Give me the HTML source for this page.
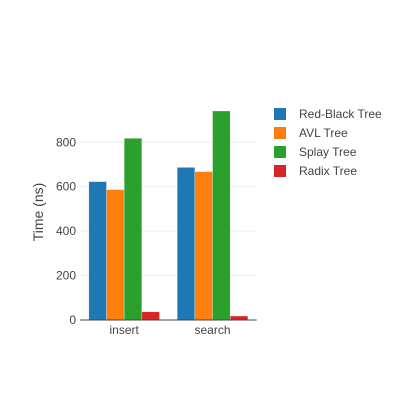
<!DOCTYPE html>
<html><head><meta charset="utf-8"><style>
body{margin:0;background:#fff;}
svg{font-family:"Liberation Sans","DejaVu Sans",sans-serif;}
</style></head><body>
<svg id="chart" width="400" height="400" xmlns="http://www.w3.org/2000/svg">
<g id="grid"></g>
<g id="bars"></g>
<g id="axes"></g>
<text transform="translate(43,212) rotate(-90)" text-anchor="middle" font-size="14" fill="#444">Time (ns)</text>
<g id="legend"></g>
</svg>
<script>
const categories = ["insert", "search"];
const seriesNames = ["Red-Black Tree", "AVL Tree", "Splay Tree", "Radix Tree"];
const redBlack = [623, 687];
const avl = [587, 668];
const splay = [818, 941];
const radix = [37, 18];
const yTicks = [0, 200, 400, 600, 800];
const colors = ["#1f77b4", "#ff7f0e", "#2ca02c", "#d62728"];

const NS = "http://www.w3.org/2000/svg";
const x0 = 80, x1 = 256.7, yBase = 320, pxPerUnit = 177.7 / 800;
const yScale = v => yBase - v * pxPerUnit;
const catW = (x1 - x0) / categories.length;
const xCat = i => x0 + catW * i;
function mk(tag, attrs, parent){const e=document.createElementNS(NS,tag);for(const k in attrs)e.setAttribute(k,attrs[k]);parent.appendChild(e);return e;}

const grid = document.getElementById("grid");
const axes = document.getElementById("axes");
yTicks.forEach(t => {
  if (t > 0) {
    const l = mk("line", {x1:x0, x2:x1, y1:yScale(t), y2:yScale(t), stroke:"#eee", "stroke-width":1}, grid);
    
    
  }
  const tx = mk("text", {x:x0-4, y:yScale(t)+4, "text-anchor":"end", "font-size":12, fill:"#444"}, axes);
  tx.textContent = t;
  
  
});

const series = [redBlack, avl, splay, radix];
const bars = document.getElementById("bars");
const groupW = catW * 0.8, bw = groupW / series.length;
series.forEach((vals, s) => {
  vals.forEach((v, i) => {
    const x = xCat(i) + catW * 0.1 + bw * s;
    const r = mk("rect", {x:x, y:yScale(v), width:bw, height:yBase - yScale(v), fill:colors[s], stroke:"rgba(255,255,255,0.6)", "stroke-width":0.5}, bars);
    
    
  });
});

const ax = mk("line", {x1:x0, x2:x1, y1:yBase, y2:yBase, stroke:"#444", "stroke-width":1}, axes);


categories.forEach((c, i) => {
  const t = mk("text", {x:xCat(i)+catW/2, y:yBase+14, "text-anchor":"middle", "font-size":12, fill:"#444"}, axes);
  t.textContent = c;
  
  
});

const legend = document.getElementById("legend");
seriesNames.forEach((n, s) => {
  const y = 114 + 19 * s;
  const g = mk("g", {}, legend);
  
  
  mk("rect", {x:274, y:y-6, width:12, height:12, fill:colors[s]}, g);
  const t = mk("text", {x:299, y:y+4, "font-size":12, fill:"#444"}, g);
  t.textContent = n;
});
</script>
</body></html>
